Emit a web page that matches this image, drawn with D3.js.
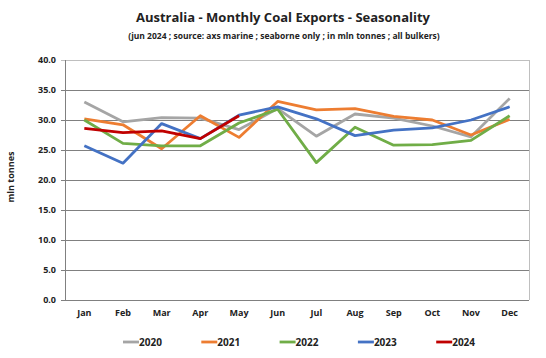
<!DOCTYPE html>
<html><head><meta charset="utf-8">
<script src="https://cdn.jsdelivr.net/npm/d3@7"></script>
<style>body{margin:0;background:#fff}svg{display:block}text{font-family:"Open Sans","Liberation Sans",sans-serif;font-weight:bold;fill:#222}</style>
</head><body><svg id="c" width="546" height="358"></svg>
<script>
const months = ["Jan","Feb","Mar","Apr","May","Jun","Jul","Aug","Sep","Oct","Nov","Dec"];
const yTicks = [0,5,10,15,20,25,30,35,40];
const years = ["2020","2021","2022","2023","2024"];
const colors = ["#A5A5A5","#ED7D31","#70AD47","#4472C4","#C00000"];
const s2020 = [33.0,29.7,30.4,30.3,28.4,31.9,27.3,31.0,30.3,29.0,27.2,33.6];
const s2021 = [30.2,29.2,25.2,30.7,27.1,33.1,31.7,31.9,30.6,30.0,27.5,30.1];
const s2022 = [30.0,26.1,25.7,25.7,29.5,31.8,22.9,28.8,25.8,25.9,26.6,30.7];
const s2023 = [25.7,22.8,29.4,26.9,30.8,32.2,30.2,27.4,28.3,28.7,30.0,32.2];
const s2024 = [28.6,27.9,28.2,26.9,30.7];
const series = [s2020,s2021,s2022,s2023,s2024];

const svg = d3.select("#c");
const L=65,R=529,T=60,B=300;
const x = d3.scaleBand().domain(months).range([L,R]);
const y = d3.scaleLinear().domain([0,40]).range([B,T]);

svg.append("text").attr("x",283).attr("y",22).attr("text-anchor","middle").style("font-size","13px").text("Australia - Monthly Coal Exports - Seasonality");
svg.append("text").attr("x",284).attr("y",39).attr("text-anchor","middle").style("font-size","8.5px").text("(jun 2024 ; source: axs marine ; seaborne only ; in mln tonnes ; all bulkers)");

// grid
const g = svg.append("g");
g.selectAll("line.grid").data(yTicks).join("line")
 .attr("x1",L-4).attr("x2",R).attr("y1",d=>Math.round(y(d))+0.5).attr("y2",d=>Math.round(y(d))+0.5)
 .attr("stroke",d=>d===40?"#BFBFBF":"#808080").attr("stroke-width",1);
g.append("line").attr("x1",R+0.5).attr("x2",R+0.5).attr("y1",T).attr("y2",B).attr("stroke","#BFBFBF");
g.append("line").attr("x1",L+0.5).attr("x2",L+0.5).attr("y1",T).attr("y2",B+0.5).attr("stroke","#808080");

g.selectAll("text.yt").data(yTicks).join("text").attr("class","yt")
 .attr("x",L-9).attr("y",d=>y(d)+3).attr("text-anchor","end").style("font-size","9px").text(d=>d.toFixed(1));
g.selectAll("text.xt").data(months).join("text").attr("class","xt")
 .attr("x",d=>x(d)+x.bandwidth()/2).attr("y",316).attr("text-anchor","middle").style("font-size","9px").text(d=>d);
svg.append("text").attr("transform","translate(14,177) rotate(-90)").attr("text-anchor","middle").style("font-size","9px").text("mln tonnes");

const line = d3.line().x((d,i)=>x(months[i])+x.bandwidth()/2).y(d=>y(d));
series.forEach((s,k)=>{
  svg.append("path").attr("d",line(s)).attr("fill","none").attr("stroke",colors[k]).attr("stroke-width",2.8).attr("stroke-linejoin","round");
});

// legend
const lg = svg.append("g");
years.forEach((yr,k)=>{
  const lx = 123 + k*78.3;
  lg.append("line").attr("x1",lx).attr("x2",lx+16).attr("y1",342).attr("y2",342).attr("stroke",colors[k]).attr("stroke-width",2.8);
  lg.append("text").attr("x",lx+16).attr("y",345.5).style("font-size","10px").text(yr);
});
</script></body></html>
